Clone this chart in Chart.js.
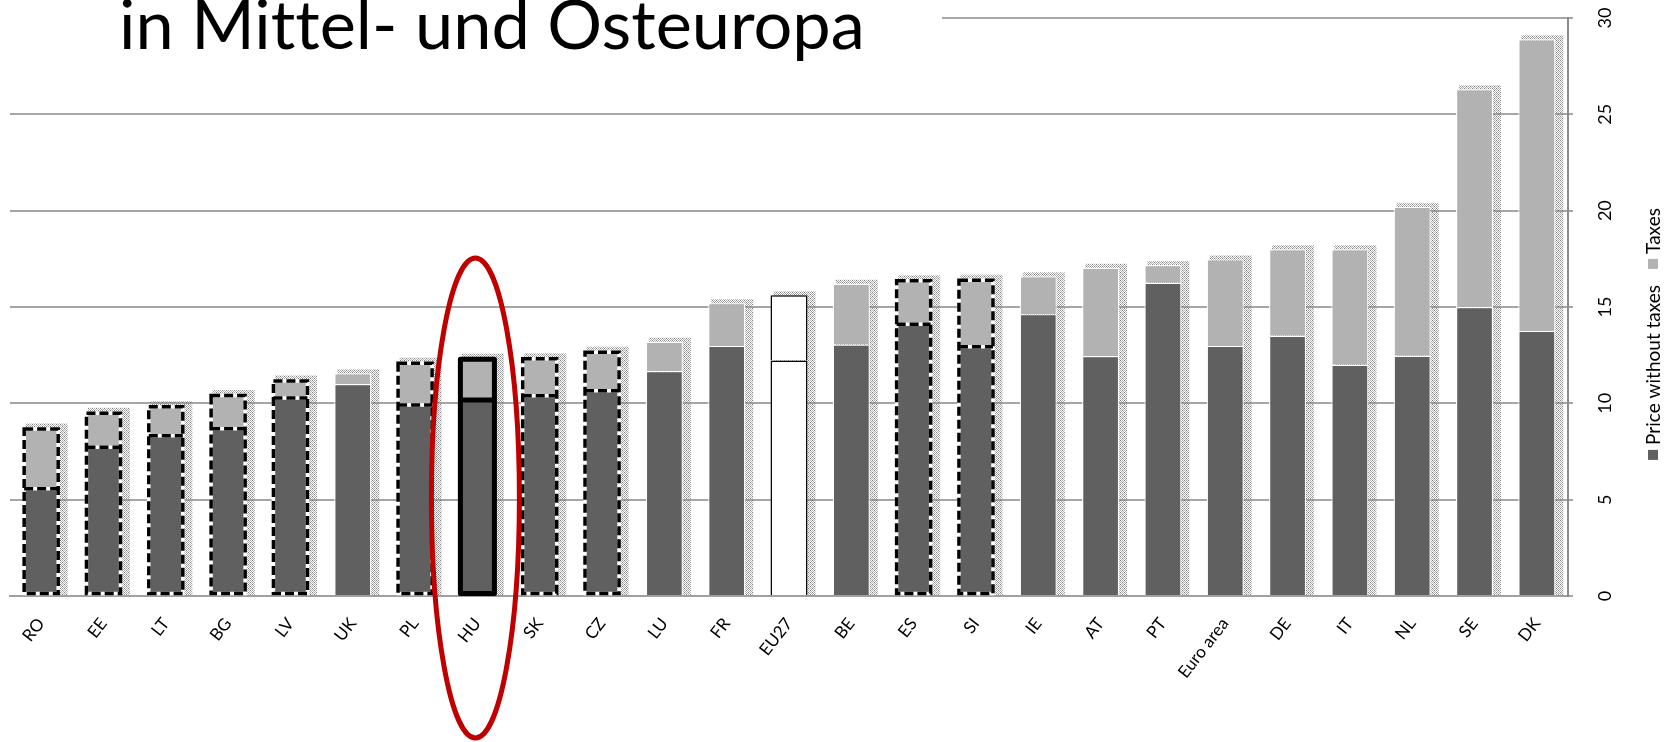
<!DOCTYPE html>
<html>
<head>
<meta charset="utf-8">
<script src="https://cdn.jsdelivr.net/npm/chart.js@4.4.1/dist/chart.umd.min.js"></script>
<style>
  html, body { margin: 0; padding: 0; background: #fff; overflow: hidden; }
  #wrap { position: relative; width: 1665px; height: 742px; }
  #c { position: absolute; left: 0; top: 0; }
  #title {
    position: absolute; left: 0; top: 0; width: 942px; height: 66px;
    font-family: Lato, "Open Sans", sans-serif; font-size: 68.5px; line-height: 70px;
    font-variant-ligatures: none; color: #000; white-space: nowrap;
  }
  #title .cover { position: absolute; left: 0; top: 0; width: 942px; height: 26px; background: #fff; }
  #title .txt { position: absolute; left: 119px; top: -12px; }
</style>
</head>
<body>
<div id="wrap">
  <canvas id="c" width="1665" height="742"></canvas>
  <div id="title"><div class="cover"></div><div class="txt">in Mittel- und Osteuropa</div></div>
</div>
<script>
// Household electricity price, EUR cents per kWh
const categories = ['RO','EE','LT','BG','LV','UK','PL','HU','SK','CZ','LU','FR','EU27','BE','ES','SI','IE','AT','PT','Euro area','DE','IT','NL','SE','DK'];
const priceWithoutTaxes = [5.57,7.72,8.32,8.68,10.28,11.00,9.91,10.17,10.40,10.65,11.68,12.98,12.22,13.05,14.11,12.94,14.63,12.46,16.26,12.98,13.51,12.00,12.47,15.00,13.76];
const taxes = [3.18,1.84,1.58,1.80,0.96,0.56,2.25,2.20,1.99,2.08,1.52,2.22,3.39,3.16,2.33,3.53,1.96,4.58,0.92,4.49,4.49,6.00,7.73,11.30,15.14];
const yTicks = [0,5,10,15,20,25,30];
const seriesLabels = ['Price without taxes','Taxes'];

// groups of bars with a special outline
const outlined = ['RO','EE','LT','BG','LV','PL','SK','CZ','ES','SI'];
const highlighted = 'HU';
const reference = 'EU27';

const DARK = '#606060', LIGHT = '#b2b2b2';
const FONT = 'Lato, "Open Sans", sans-serif';

function dotPattern() {
  const p = document.createElement('canvas');
  p.width = 4; p.height = 4;
  const g = p.getContext('2d');
  for (let y = 0; y < 4; y++) for (let x = 0; x < 4; x++) {
    if ((x + y) % 2 === 0) {
      g.fillStyle = (x === 0 && y === 0) || (x === 2 && y === 2) ? 'rgba(100,100,100,0.85)' : 'rgba(150,150,150,0.75)';
      g.fillRect(x, y, 1, 1);
    }
  }
  return document.getElementById('c').getContext('2d').createPattern(p, 'repeat');
}

const shadowPlugin = {
  id: 'barShadow',
  beforeDatasetsDraw(chart) {
    const ctx = chart.ctx, a = chart.chartArea;
    const m0 = chart.getDatasetMeta(0), m1 = chart.getDatasetMeta(1);
    const pat = dotPattern();
    ctx.save();
    ctx.beginPath(); ctx.rect(a.left, a.top - 10, a.right - a.left, a.bottom - a.top + 10); ctx.clip();
    ctx.fillStyle = pat;
    m0.data.forEach((b0, i) => {
      const b1 = m1.data[i];
      const l = b0.x - b0.width / 2 + 3, r = b0.x + b0.width / 2 + 8;
      const top = b1.y - 4, base = b0.base;
      ctx.fillRect(l, top, r - l, base - top);
    });
    ctx.restore();
  }
};

const outlinePlugin = {
  id: 'barOutline',
  afterDatasetsDraw(chart) {
    const ctx = chart.ctx;
    const m0 = chart.getDatasetMeta(0), m1 = chart.getDatasetMeta(1);
    categories.forEach((c, i) => {
      const hl = c === highlighted, out = outlined.includes(c);
      if (!hl && !out) return;
      const b0 = m0.data[i], b1 = m1.data[i];
      const w = b0.width;
      const l = b0.x - w / 2 + 1.5, r = b0.x + w / 2 - 1.5;
      const top = b1.y + 1.5, base = b0.base - 1.5, mid = b0.y;
      const path = () => {
        ctx.beginPath();
        ctx.rect(l, top, r - l, base - top);
        ctx.moveTo(l, mid); ctx.lineTo(r, mid);
      };
      ctx.save();
      if (hl) {
        ctx.lineWidth = 5; ctx.strokeStyle = '#000'; ctx.lineJoin = 'round';
        path(); ctx.stroke();
      } else {
        ctx.lineWidth = 3.5; ctx.strokeStyle = '#fff'; path(); ctx.stroke();
        ctx.setLineDash([9, 4]); ctx.strokeStyle = '#000'; path(); ctx.stroke();
      }
      ctx.restore();
    });
  }
};

const legendPlugin = {
  id: 'sideLegend',
  afterDraw(chart) {
    const ctx = chart.ctx;
    const ds = chart.data.datasets;
    const size = 10, gapIcon = 5, gapItem = 16;
    ctx.save();
    ctx.font = '19px ' + FONT;
    const widths = ds.map(d => ctx.measureText(d.label).width);
    const total = widths.reduce((s, w) => s + size + gapIcon + w, 0) + gapItem * (ds.length - 1);
    ctx.translate(1653, 334);
    ctx.rotate(-Math.PI / 2);
    let x = -total / 2;
    ctx.textBaseline = 'middle';
    ds.forEach((d, i) => {
      ctx.fillStyle = d.legendColor;
      ctx.fillRect(x, -size / 2, size, size);
      x += size + gapIcon;
      ctx.fillStyle = '#000';
      ctx.fillText(d.label, x, 1);
      x += widths[i] + gapItem;
    });
    ctx.restore();
  }
};

const ellipsePlugin = {
  id: 'highlightRing',
  afterDraw(chart) {
    const ctx = chart.ctx;
    const i = categories.indexOf(highlighted);
    const bar = chart.getDatasetMeta(0).data[i];
    ctx.save();
    ctx.beginPath();
    ctx.ellipse(bar.x - 2, 498, 44, 240, 0, 0, Math.PI * 2);
    ctx.strokeStyle = '#c00000';
    ctx.lineWidth = 5;
    ctx.stroke();
    ctx.restore();
  }
};

const isRef = ctx => categories[ctx.dataIndex] === reference;

new Chart(document.getElementById('c'), {
  type: 'bar',
  data: {
    labels: categories,
    datasets: [
      {
        label: seriesLabels[0], data: priceWithoutTaxes, legendColor: DARK,
        backgroundColor: ctx => isRef(ctx) ? '#fff' : DARK,
        borderColor: ctx => isRef(ctx) ? '#000' : '#fff',
        borderWidth: ctx => isRef(ctx) ? 1.5 : 1.2
      },
      {
        label: seriesLabels[1], data: taxes, legendColor: LIGHT,
        backgroundColor: ctx => isRef(ctx) ? '#fff' : LIGHT,
        borderColor: ctx => isRef(ctx) ? '#000' : '#fff',
        borderWidth: ctx => isRef(ctx) ? 1.5 : 1.2
      }
    ]
  },
  options: {
    responsive: false,
    animation: false,
    devicePixelRatio: 1,
    categoryPercentage: 1,
    barPercentage: 0.594,
    layout: { padding: { left: 10, top: 18, right: 0, bottom: 0 } },
    plugins: { legend: { display: false }, tooltip: { enabled: false }, title: { display: false } },
    scales: {
      x: {
        stacked: true,
        grid: { display: false, drawTicks: false },
        border: { display: true, color: '#a0a0a0', width: 2 },
        ticks: { autoSkip: false, minRotation: 52, maxRotation: 52, padding: 18, color: '#000', font: { family: FONT, size: 17 } },
        afterFit: s => { s.height = 146; s.paddingLeft = 0; s.paddingRight = 0; }
      },
      y: {
        stacked: true, position: 'right', min: 0, max: 30,
        afterBuildTicks: s => { s.ticks = yTicks.map(v => ({ value: v })); },
        grid: { color: '#a6a6a6', lineWidth: 2, drawTicks: true, tickLength: 5 },
        border: { display: true, color: '#8c8c8c', width: 2 },
        ticks: { minRotation: 90, maxRotation: 90, crossAlign: 'center', padding: 22, color: '#000', font: { family: FONT, size: 18 } },
        afterFit: s => { s.width = 97; s.paddingTop = 0; s.paddingBottom = 0; }
      }
    }
  },
  plugins: [shadowPlugin, outlinePlugin, legendPlugin, ellipsePlugin]
});
</script>
</body>
</html>
